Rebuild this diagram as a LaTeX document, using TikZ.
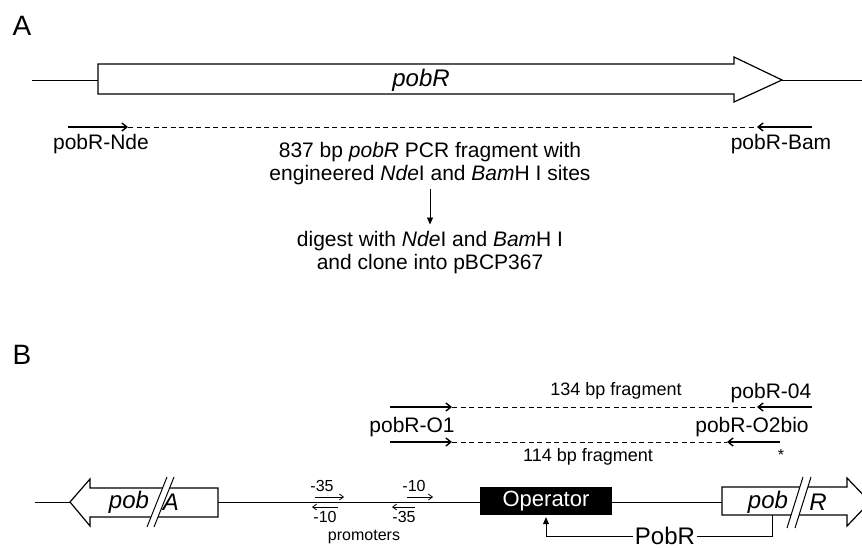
\documentclass[tikz,border=0pt]{standalone}
\usepackage{fontspec}
\setmainfont{Liberation Sans}
\usetikzlibrary{arrows.meta, positioning, calc}

\tikzset{
  panellbl/.style={font=\fontsize{28}{32}\selectfont, inner sep=0pt},
  lbl/.style={font=\fontsize{21}{23}\selectfont, inner sep=0pt},
  smalllbl/.style={font=\fontsize{18}{21}\selectfont, inner sep=0pt},
  tinylbl/.style={font=\fontsize{16}{19}\selectfont, inner sep=0pt},
  genetxt/.style={font=\fontsize{24}{28}\selectfont\itshape, inner sep=0pt},
  dna/.style={line width=0.9pt},
  gene/.style={draw, line width=1.2pt, fill=white, line join=miter},
  primer/.style={line width=1.4pt, -{Straight Barb[length=5pt,width=8pt]}},
  promo/.style={line width=0.8pt, -{Straight Barb[length=4pt,width=6pt]}},
  product/.style={line width=0.9pt, dash pattern=on 5pt off 3.5pt},
  flow/.style={line width=0.8pt, -{Triangle[length=7pt,width=6pt]}},
}

\begin{document}
\begin{tikzpicture}[x=1pt, y=-1pt]
  \useasboundingbox (0,0) rectangle (862,548);
  \fill[white] (0,0) rectangle (862,548);
  \clip (0,0) rectangle (862,548);

  % ---- A ----
  \node[panellbl] (labA) at (22,26) {A};
  \coordinate (aL) at (32,80);
  \coordinate (aR) at (862,80);
  \draw[dna] (aL) -- (aR);
  \draw[gene] (98,64) -- (734,64) -- (734,57) -- (782,80) -- (734,102)
    -- (734,94) -- (98,94) -- cycle;
  \node[genetxt, anchor=base] (pobRA) at (421,87) {pobR};

  \coordinate (ndeS) at (68,127);
  \coordinate (ndeE) at (128,127);
  \coordinate (bamS) at (812,127);
  \coordinate (bamE) at (757,127);
  \draw[product] (ndeE) -- (bamE);
  \draw[primer] (ndeS) -- (ndeE);
  \draw[primer] (bamS) -- (bamE);
  \node[lbl] (ndeLbl) at (101,144) {pobR-Nde};
  \node[lbl] (bamLbl) at (781,144) {pobR-Bam};

  \node[lbl, align=center] (frag) at (430,164)
    {837 bp \textit{pobR} PCR fragment with\\
     engineered \textit{Nde}I and \textit{Bam}H I sites};
  \node[lbl, align=center] (digest) at (430,253)
    {digest with \textit{Nde}I and \textit{Bam}H I\\
     and clone into pBCP367};
  \draw[flow, shorten <=4pt, shorten >=7pt] (frag.south) -- (digest.north);

  % ---- B ----
  \node[panellbl] (labB) at (22,355) {B};

  % primers and products
  \coordinate (o1aS) at (390,407);
  \coordinate (o1aE) at (452,407);
  \coordinate (o4S) at (812,407);
  \coordinate (o4E) at (757,407);
  \draw[product] (o1aE) -- (o4E);
  \draw[primer] (o1aS) -- (o1aE);
  \draw[primer] (o4S) -- (o4E);

  \coordinate (o1bS) at (390,442);
  \coordinate (o1bE) at (452,442);
  \coordinate (o2S) at (780,442);
  \coordinate (o2E) at (727,442);
  \draw[product] (o1bE) -- (o2E);
  \draw[primer] (o1bS) -- (o1bE);
  \draw[primer] (o2S) -- (o2E);

  \node[smalllbl] (f134) at (616,391) {134 bp fragment};
  \node[lbl] (o4Lbl) at (771,393) {pobR-04};
  \node[lbl] (o1Lbl) at (412,427) {pobR-O1};
  \node[lbl] (o2Lbl) at (752,427) {pobR-O2bio};
  \node[smalllbl] (f114) at (588,457) {114 bp fragment};
  \node[tinylbl] (star) at (781,455) {*};

  % backbone and genes
  \coordinate (bL) at (35,502);
  \coordinate (bR) at (862,502);
  \draw[dna] (bL) -- (bR);

  \draw[gene] (218,488) -- (90,488) -- (90,479) -- (70,502) -- (90,526)
    -- (90,517) -- (218,517) -- cycle;
  \fill[white] (147,527) -- (167,477) -- (174,477) -- (154,527) -- cycle;
  \draw[line width=1pt] (147,527) -- (167,477) (154,527) -- (174,477);
  \node[genetxt] (pobAtxt) at (129,502) {pob};
  \node[genetxt] (Atxt) at (171,502) {A};

  \draw[gene] (722,487) -- (847,487) -- (847,478) -- (870,502) -- (847,526)
    -- (847,515) -- (722,515) -- cycle;
  \fill[white] (787,528) -- (803,477) -- (811,477) -- (795,528) -- cycle;
  \draw[line width=1pt] (787,528) -- (803,477) (795,528) -- (811,477);
  \node[genetxt] (pobRtxt) at (768,502) {pob};
  \node[genetxt] (Rtxt) at (818,502) {R};

  % promoters
  \draw[promo] (315,497) -- (344,497);
  \draw[promo] (338,507) -- (312,507);
  \draw[promo] (407,497) -- (433,497);
  \draw[promo] (415,507) -- (392,507);
  \node[tinylbl] (p35a) at (322,486) {-35};
  \node[tinylbl] (p10a) at (325,517) {-10};
  \node[tinylbl] (p10b) at (414,486) {-10};
  \node[tinylbl] (p35b) at (404,517) {-35};
  \node[tinylbl] (promLbl) at (364,537) {promoters};

  % operator and regulation
  \node[fill=black, text=white, minimum width=132pt, minimum height=28pt,
        inner sep=0pt, font=\fontsize{22}{26}\selectfont] (oper) at (546,501) {Operator};
  \node[font=\fontsize{24}{28}\selectfont, inner sep=1.5pt] (pobRprot) at (665,536) {PobR};
  \coordinate (rTap) at (772,515);
  \draw[line width=0.8pt] (rTap) |- (pobRprot.east);
  \draw[flow, shorten >=2pt] (pobRprot.west) -| (oper.south);
\end{tikzpicture}
\end{document}
